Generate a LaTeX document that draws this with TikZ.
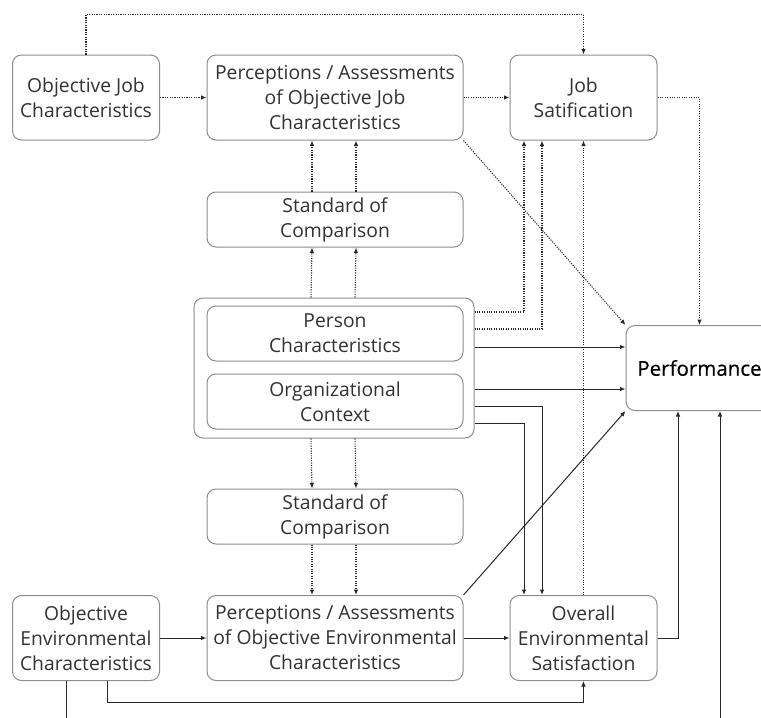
\documentclass[tikz,border=0pt]{standalone}
\usepackage{fontspec}
\setmainfont{Open Sans}
\usetikzlibrary{arrows.meta}
\definecolor{boxgray}{RGB}{140,140,140}
\definecolor{linegray}{RGB}{40,40,40}
\definecolor{textgray}{RGB}{50,50,50}

\begin{document}
\begin{tikzpicture}
            [x=1pt, y=1pt,
             every node/.style={inner sep=0pt, align=center, text=textgray, font=\fontsize{19.3}{25}\selectfont},
             box/.style={draw=boxgray, line width=1pt, rounded corners=9pt, fill=white, minimum height=85pt},
             wide/.style={box, minimum width=256pt},
             narrow/.style={box, minimum width=147pt},
             flat/.style={wide, minimum height=55pt},
             dotarrow/.style={line width=1.1pt, color=linegray, dash pattern=on 1.1pt off 1.3pt, -{Latex[length=5.5pt, width=4.5pt]}},
             solidarrow/.style={line width=1pt, color=linegray, -{Latex[length=5.5pt, width=4.5pt]}}]
                \useasboundingbox (0,0) rectangle (761,-718);
                % top row
                \node (1) [narrow] at (86, -97.5) {Objective Job\\Characteristics};
                \node (2) [wide] at (335, -97.5) {Perceptions / Assessments\\of Objective Job\\Characteristics};
                \node (3) [narrow] at (583.5, -97.5) {Job\\Satification};
                \node (4) [flat] at (335, -219.5) {Standard of\\Comparison};
                % centre block
                \node (5) [box, minimum width=280pt, minimum height=140pt] at (334, -368) {};
                \node (6) [flat] at (335, -333.5) {Person\\Characteristics};
                \node (7) [flat] at (335, -401.5) {Organizational\\Context};
                \node (8) [narrow, text=black] at (699.5, -368) {\fontsize{20.5}{25}\selectfont\addfontfeature{FakeBold=0.4}Performance};
                \node (9) [flat] at (335, -516.5) {Standard of\\Comparison};
                % bottom row
                \node (10) [narrow] at (86, -638) {Objective\\Environmental\\Characteristics};
                \node (11) [wide] at (335, -638) {Perceptions / Assessments\\of Objective Environmental\\Characteristics};
                \node (12) [narrow] at (583.5, -638) {Overall\\Environmental\\Satisfaction};
                % job side
                \draw [dotarrow] (1.north) -- ++(0, 40) -| (3.north);
                \draw [dotarrow] (1) to (2);
                \draw [dotarrow] (2) to (3);
                \draw [dotarrow] (3.east) -| (8.north);
                \draw [dotarrow] (2.south east) to (8.north west);
                \foreach \dx in {-23, 21} {
                    \draw [dotarrow] ([xshift=\dx pt]4.north) -- ([xshift=\dx pt]2.south);
                    \draw [dotarrow] ([xshift=\dx pt]5.north) -- ([xshift=\dx pt]4.south);
                    \draw [dotarrow] ([xshift=\dx pt]5.south) -- ([xshift=\dx pt]9.north);
                    \draw [dotarrow] ([xshift=\dx pt]9.south) -- ([xshift=\dx pt]11.north);
                }
                \draw [dotarrow] ([yshift=56pt]5.east) -| ([xshift=-59.5pt]3.south);
                \draw [dotarrow] ([yshift=39pt]5.east) -| ([xshift=-41.5pt]3.south);
                \draw [dotarrow] (12.north) to (3.south);
                % to performance
                \draw [solidarrow] ([yshift=21pt]5.east) -- ([yshift=21pt]8.west);
                \draw [solidarrow] ([yshift=-21pt]5.east) -- ([yshift=-21pt]8.west);
                \draw [solidarrow] ([yshift=-38pt]5.east) -| ([xshift=-41.5pt]12.north);
                \draw [solidarrow] ([yshift=-55pt]5.east) -| ([xshift=-59.5pt]12.north);
                \draw [solidarrow] (11.north east) to (8.south west);
                \draw [solidarrow] (12.east) -| ([xshift=-21.5pt]8.south);
                % environment side
                \draw [solidarrow] (10) to (11);
                \draw [solidarrow] (11) to (12);
                \draw [solidarrow] ([xshift=21pt]10.south) -- ++(0, -21) -| (12.south);
                \draw [solidarrow] ([xshift=-20pt]10.south) -- ++(0, -60) -| ([xshift=20.5pt]8.south);
            \end{tikzpicture}
\end{document}
